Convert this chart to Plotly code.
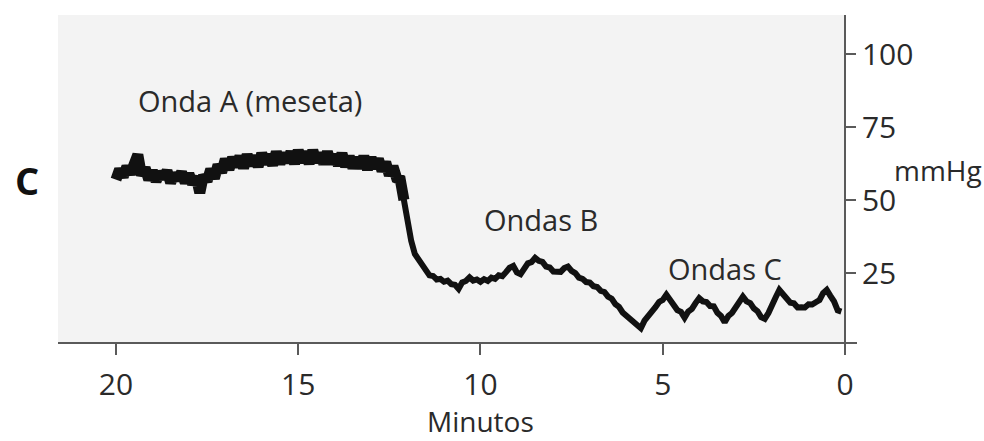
import plotly.graph_objects as go

# Time axis in minutes before the end of the recording (0.1 min steps, 20.0 -> 0.1)
minutes = [round(20.0 - 0.1 * i, 1) for i in range(200)]

# Intracranial pressure trace, mmHg, one value per time step
pressure = [
    # 20.0 - 19.1
    57, 60.5, 58, 61.5, 59, 62.5, 65.5, 58.5, 61, 57,
    # 19.0 - 18.1
    60, 56.5, 59.5, 57.5, 60, 56, 59, 57, 59.5, 56,
    # 18.0 - 17.1
    59, 55.5, 58, 52.5, 58.5, 56.5, 60.5, 57.5, 62, 59.5,
    # 17.0 - 16.1
    64, 60.5, 64.5, 61.5, 65, 61, 65.5, 62, 65, 61.5,
    # 16.0 - 15.1
    66, 62.5, 65.5, 62, 66.5, 62.5, 66, 63, 66.5, 62.5,
    # 15.0 - 14.1
    67, 63, 66.5, 62.5, 67, 63, 66, 62.5, 66.5, 62.5,
    # 14.0 - 13.1
    65.5, 62, 66, 61.5, 65, 61, 64.5, 61, 65, 60.5,
    # 13.0 - 12.1
    64.5, 61, 64, 60, 63, 58.5, 61.5, 57.5, 57, 50,
    # 12.0 - 11.1
    42, 36, 31.5, 29.5, 27.5, 26.3, 24.2, 24, 22.8, 23,
    # 11.0 - 10.1
    22, 22.4, 21.2, 21, 19.6, 21.8, 22.3, 23.5, 22.4, 22.8,
    # 10.0 - 9.1
    22, 22.9, 22.3, 23.4, 23, 24.2, 23.9, 25.3, 26.8, 27.4,
    # 9.0 - 8.1
    25.2, 24.6, 26.3, 28.3, 28.7, 30.2, 29.2, 28.8, 27.2, 26.9,
    # 8.0 - 7.1
    25.5, 25.2, 25.4, 26.7, 27.2, 25.7, 25, 23.4, 23, 21.9,
    # 7.0 - 6.1
    21.7, 20.5, 20.2, 18.9, 18.5, 16.9, 16.2, 14.3, 13.4, 11.5,
    # 6.0 - 5.1
    10.4, 8.9, 8.4, 6.8, 6.1, 8.7, 10.1, 12.2, 13.3, 15.1,
    # 5.0 - 4.1
    15.8, 17.6, 15.7, 14.5, 12.3, 11.7, 9.7, 11.8, 12.7, 14.7,
    # 4.0 - 3.1
    16.4, 15.3, 15.1, 13.7, 13.6, 11.4, 10.3, 8.1, 10.3, 11.3,
    # 3.0 - 2.1
    13.5, 14.7, 16.9, 15.3, 14.7, 12.9, 11.9, 9.9, 9.3, 11.3,
    # 2.0 - 1.1
    14.5, 16.7, 19.2, 17.5, 16.6, 14.8, 14.6, 13.2, 13.3, 13.2,
    # 1.0 - 0.1
    14.3, 14.2, 15, 15.7, 18.1, 19.2, 17.2, 15.3, 12.2, 11.8,
]

# the plateau part of the recording is noisier, so it is drawn heavier
PLATEAU_END = 80  # index of 12.0 min

x_ticks = [20, 15, 10, 5, 0]
y_ticks = [25, 50, 75, 100]

wave_labels = ["Onda A (meseta)", "Ondas B", "Ondas C"]
wave_x = [16.32, 8.34, 3.29]
wave_y = [84.2, 43.2, 26.7]

X_RANGE = [21.59, -0.33]
Y_RANGE = [1.37, 113.4]
FONT = "Open Sans"
TEXT = "#2a2a2a"
AXIS = "#5a5a5a"
INK = "#111111"

fig = go.Figure()

fig.add_trace(go.Scatter(
    x=minutes[:PLATEAU_END], y=pressure[:PLATEAU_END], mode="lines",
    line=dict(color=INK, width=11), hoverinfo="skip", showlegend=False,
))
fig.add_trace(go.Scatter(
    x=minutes[PLATEAU_END - 2:], y=pressure[PLATEAU_END - 2:], mode="lines",
    line=dict(color=INK, width=6), hoverinfo="skip", showlegend=False,
))

# light panel behind the trace, ending at the pressure axis
fig.add_shape(type="rect", xref="x", yref="paper",
              x0=X_RANGE[0], x1=0, y0=0, y1=1,
              fillcolor="#f3f3f3", line=dict(width=0), layer="below")

for text, xv, yv in zip(wave_labels, wave_x, wave_y):
    fig.add_annotation(x=xv, y=yv, text=text, showarrow=False,
                       xanchor="center", yanchor="middle",
                       font=dict(family=FONT, size=29, color=TEXT))

fig.add_annotation(xref="paper", yref="paper", x=-0.039, y=0.495, text="<b>C</b>",
                   showarrow=False, xanchor="center", yanchor="middle",
                   font=dict(family=FONT, size=38, color="#111"))
fig.add_annotation(xref="paper", yref="paper", x=1.102, y=0.526, text="mmHg",
                   showarrow=False, xanchor="center", yanchor="middle",
                   font=dict(family=FONT, size=28, color=TEXT))
fig.add_annotation(xref="x", yref="paper", x=10, y=-0.243, text="Minutos",
                   showarrow=False, xanchor="center", yanchor="middle",
                   font=dict(family=FONT, size=28, color=TEXT))

fig.update_layout(
    width=984, height=441,
    margin=dict(l=58, r=127, t=15, b=99),
    paper_bgcolor="#ffffff", plot_bgcolor="rgba(0,0,0,0)",
    xaxis=dict(
        range=X_RANGE, domain=[0, 1], tickvals=x_ticks,
        ticks="outside", ticklen=11, tickwidth=2, tickcolor=AXIS,
        ticklabelstandoff=4,
        showline=True, linecolor=AXIS, linewidth=2,
        showgrid=False, zeroline=False,
        tickfont=dict(family=FONT, size=30, color=TEXT),
    ),
    yaxis=dict(
        range=Y_RANGE, tickvals=y_ticks, side="right",
        anchor="free", position=(X_RANGE[0]) / (X_RANGE[0] - X_RANGE[1]),
        ticks="outside", ticklen=10, tickwidth=2, tickcolor=AXIS,
        showline=True, linecolor=AXIS, linewidth=2,
        showgrid=False, zeroline=False,
        tickfont=dict(family=FONT, size=30, color=TEXT),
    ),
)

fig.write_html("out.html")
